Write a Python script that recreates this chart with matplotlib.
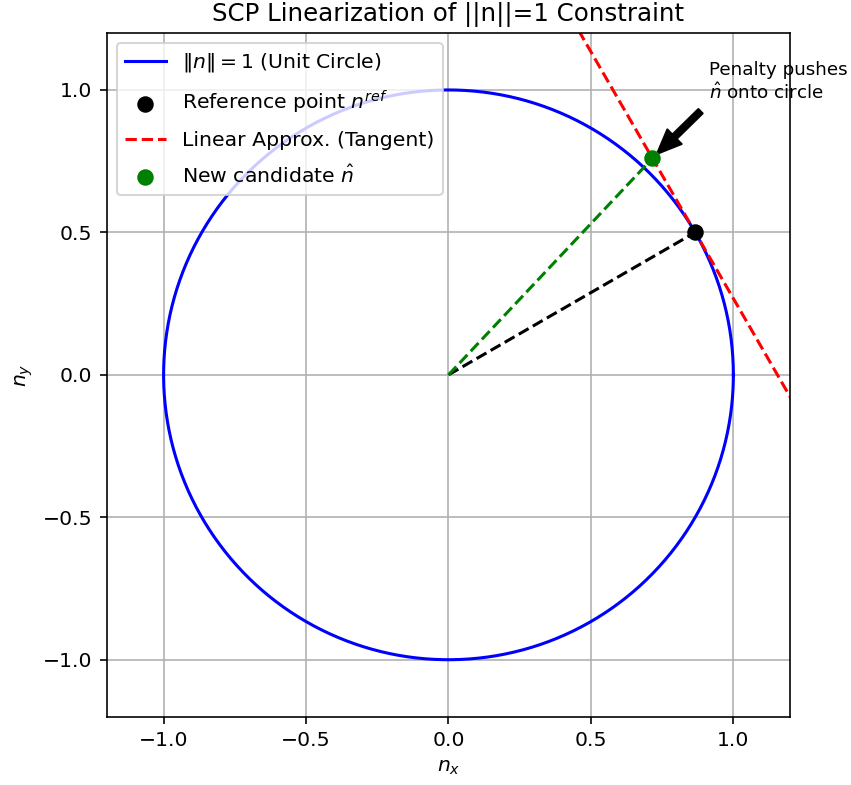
import numpy as np
import matplotlib
matplotlib.use("Agg")
import matplotlib.pyplot as plt

# --- data ---
n_ref = np.array([0.866, 0.5])          # reference point on the circle
n_hat = np.array([0.716, 0.76])         # new candidate on the tangent
theta = np.linspace(0, 2 * np.pi, 400)  # circle parameter
t_span = np.array([-1.5, 1.5])          # tangent parameter range
ticks = [-1.0, -0.5, 0.0, 0.5, 1.0]

# tangent direction at n_ref
tan_dir = np.array([-n_ref[1], n_ref[0]])
tan_x = n_ref[0] + t_span * tan_dir[0]
tan_y = n_ref[1] + t_span * tan_dir[1]

dpi = 147
fig, ax = plt.subplots(figsize=(851 / dpi, 785 / dpi), dpi=dpi)
fig.subplots_adjust(left=0.125, right=0.929, top=0.958, bottom=0.087)

ax.plot(np.cos(theta), np.sin(theta), color='blue', lw=1.5,
        label=r'$\|n\| = 1$ (Unit Circle)')
ax.scatter(n_ref[0], n_ref[1], color='black', s=50, zorder=5,
           label=r'Reference point $n^{ref}$')
ax.plot(tan_x, tan_y, 'r--', lw=1.5, label='Linear Approx. (Tangent)')
ax.scatter(n_hat[0], n_hat[1], color='green', s=50, zorder=5,
           label=r'New candidate $\hat{n}$')

# rays from origin
ax.plot([0, n_ref[0]], [0, n_ref[1]], 'k--', lw=1.5)
ax.plot([0, n_hat[0]], [0, n_hat[1]], 'g--', lw=1.5)

ax.annotate('Penalty pushes\n' + r'$\hat{n}$ onto circle',
            xy=(n_hat[0], n_hat[1]), xytext=(0.915, 0.955),
            ha='left', va='bottom', fontsize=9,
            arrowprops=dict(facecolor='black', shrink=0.08, width=3, headwidth=10))

ax.set_xlim(-1.2, 1.2)
ax.set_ylim(-1.2, 1.2)
ax.set_xticks(ticks)
ax.set_yticks(ticks)
ax.set_aspect('equal')
ax.grid(True)
ax.set_xlabel(r'$n_x$')
ax.set_ylabel(r'$n_y$')
ax.set_title('SCP Linearization of ||n||=1 Constraint')
ax.legend(loc='upper left', labelspacing=0.72)

fig.savefig('out.png', dpi=dpi)
